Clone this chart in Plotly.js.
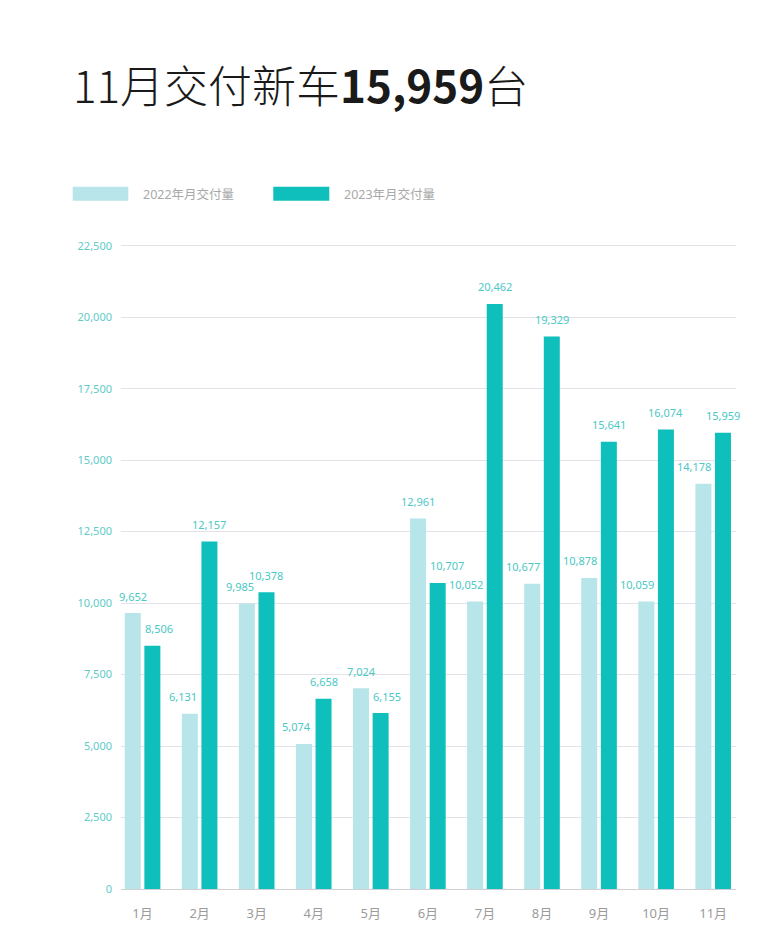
<!DOCTYPE html>
<html>
<head>
<meta charset="utf-8">
<script src="https://cdn.plot.ly/plotly-3.0.1.min.js"></script>
<style>
html,body{margin:0;padding:0;background:#fff;}
#chart{width:770px;height:942px;}
</style>
</head>
<body>
<div id="chart"></div>
<script>
const months = ['1月','2月','3月','4月','5月','6月','7月','8月','9月','10月','11月'];
const deliveries2022 = [9652, 6131, 9985, 5074, 7024, 12961, 10052, 10677, 10878, 10059, 14178];
const deliveries2023 = [8506, 12157, 10378, 6658, 6155, 10707, 20462, 19329, 15641, 16074, 15959];
const seriesNames = ['2022年月交付量', '2023年月交付量'];
const yTickVals = [0, 2500, 5000, 7500, 10000, 12500, 15000, 17500, 20000, 22500];
const titleText = '11月交付新车<b>15,959</b>台';

const colLight = '#b7e5e9';
const colDark = '#0ebfbb';
const labelCol = '#4cc8c5';
const FONT = 'Noto Sans, Noto Sans CJK SC, sans-serif';

const bargap = 0.313, bargroupgap = 0.184;
const slot = (1 - bargap) / 2;
const off = slot / 2;
const half = slot * (1 - bargroupgap) / 2;

const fmt = v => v.toLocaleString('en-US');

const traces = [
  {type:'bar', name:seriesNames[0], x:months, y:deliveries2022, marker:{color:colLight}, hoverinfo:'x+y'},
  {type:'bar', name:seriesNames[1], x:months, y:deliveries2023, marker:{color:colDark}, hoverinfo:'x+y'}
];

const annotations = [];
const series = [deliveries2022, deliveries2023];
series.forEach((arr, s) => {
  const other = series[1 - s];
  arr.forEach((v, i) => {
    const c = i + (s === 0 ? -off : off);
    let x = c, anchor = 'center', xs = 0;
    if (other[i] > v) {
      if (s === 0) { x = c + half; anchor = 'right'; xs = 1.5; }
      else { x = c - half; anchor = 'left'; xs = -1.5; }
    }
    annotations.push({
      xref:'x', yref:'y', x: x, y: v,
      text: fmt(v), showarrow:false, yanchor:'middle', xanchor:anchor, yshift:17, xshift:xs,
      font:{family:FONT, size:11, color:labelCol}
    });
  });
});

// geometry of plot area in pixels
const L = 121, W = 615, B = 889.3, H0 = 643.6;
const yMax = 22560;
const extra = (yMax - 22500) / 22500 * H0;
const H = H0 + extra;
const px = p => (p - L) / W;
const py = p => (B - p) / H;

// custom legend
const shapes = [];
const legendItems = [
  {x0:72.7, x1:128.3, tx:140.7, color:colLight, name:seriesNames[0]},
  {x0:273.3, x1:329.3, tx:341.7, color:colDark, name:seriesNames[1]}
];
legendItems.forEach(it => {
  shapes.push({type:'rect', xref:'paper', yref:'paper', x0:px(it.x0), x1:px(it.x1), y0:py(200.7), y1:py(186.7),
    fillcolor:it.color, line:{width:0}, layer:'above'});
  annotations.push({xref:'paper', yref:'paper', x:px(it.tx), y:py(194), xanchor:'left', yanchor:'middle',
    text:it.name, showarrow:false, font:{family:FONT, size:12.5, color:'#a8a8a8'}});
});

const layout = {
  width:770, height:942,
  paper_bgcolor:'#ffffff', plot_bgcolor:'#ffffff',
  margin:{l:121, r:34, t:245.7 - extra, b:52.7, pad:0},
  showlegend:false,
  barmode:'group', bargap:bargap, bargroupgap:bargroupgap,
  title:{text:titleText, xref:'container', yref:'container', x:73/770, xanchor:'left', y:1-88/942, yanchor:'middle',
    font:{family:'Noto Sans CJK SC, sans-serif', size:44, color:'#1a1a1a', weight:300}},
  xaxis:{type:'category', range:[-0.378, 10.4], showgrid:false, zeroline:false,
    showline:true, linecolor:'#cfcfd4', linewidth:1, ticks:'', ticklabelstandoff:12,
    tickfont:{family:FONT, size:13, color:'#9b9b9b'}, fixedrange:true},
  yaxis:{range:[0, yMax], tickvals:yTickVals, ticktext:yTickVals.map(fmt), showgrid:true, gridcolor:'#e2e2e8', gridwidth:1,
    zeroline:false, showline:false, ticks:'', ticklabelstandoff:8,
    tickfont:{family:FONT, size:11, color:'#5ecbc8'}, fixedrange:true},
  annotations:annotations,
  shapes:shapes
};

Plotly.newPlot('chart', traces, layout, {displayModeBar:false, staticPlot:true});
</script>
</body>
</html>
